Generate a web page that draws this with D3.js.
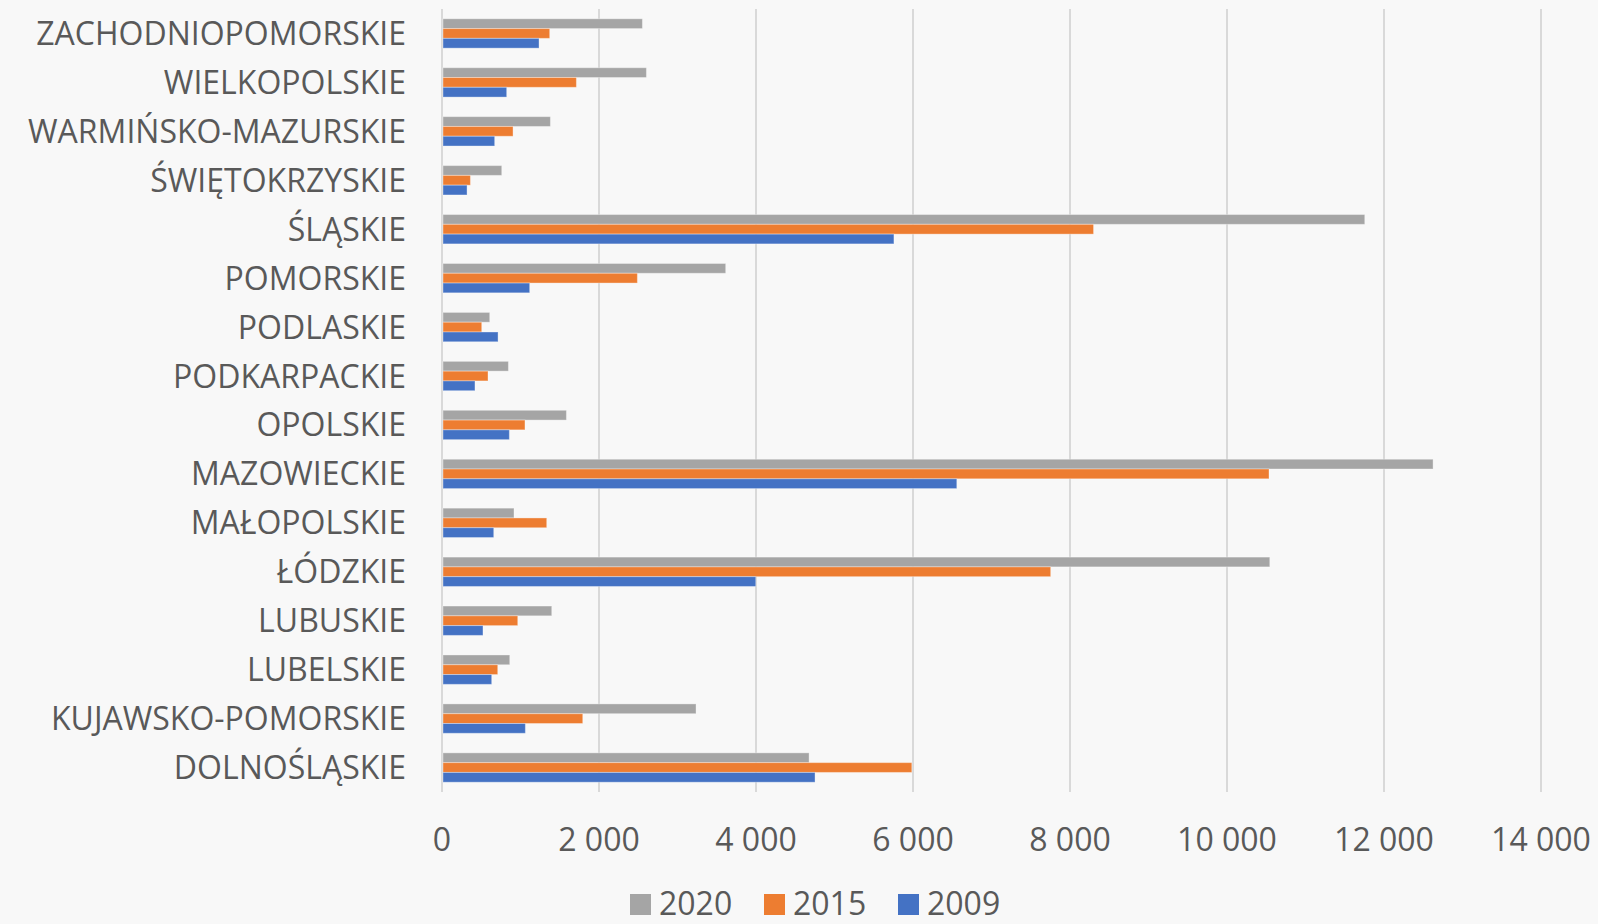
<!DOCTYPE html>
<html lang="pl">
<head>
<meta charset="utf-8">
<script src="https://cdn.jsdelivr.net/npm/d3@7/dist/d3.min.js"></script>
<style>
  html, body { margin: 0; padding: 0; background: #f8f8f8; overflow: hidden; }
  svg { display: block; }
  text { font-family: "Open Sans", "Noto Sans", sans-serif; fill: #595959; }
</style>
</head>
<body>
<svg id="chart" width="1598" height="924"></svg>
<script>
// Voivodeships in data order (drawn bottom-up)
const regions = [
  "DOLNOŚLĄSKIE", "KUJAWSKO-POMORSKIE", "LUBELSKIE", "LUBUSKIE", "ŁÓDZKIE",
  "MAŁOPOLSKIE", "MAZOWIECKIE", "OPOLSKIE", "PODKARPACKIE", "PODLASKIE",
  "POMORSKIE", "ŚLĄSKIE", "ŚWIĘTOKRZYSKIE", "WARMIŃSKO-MAZURSKIE",
  "WIELKOPOLSKIE", "ZACHODNIOPOMORSKIE"
];
const values2009 = [4752, 1062, 633, 522, 3997, 659, 6558, 858, 420, 714, 1117, 5757, 319, 671, 824, 1236];
const values2015 = [5985, 1793, 710, 965, 7754, 1334, 10535, 1057, 586, 506, 2489, 8300, 362, 905, 1712, 1372];
const values2020 = [4676, 3236, 863, 1398, 10545, 917, 12625, 1585, 846, 608, 3614, 11755, 761, 1381, 2604, 2553];
const seriesNames = ["2020", "2015", "2009"];
const seriesColors = ["#a5a5a5", "#ed7d31", "#4472c4"];
const xTicks = [0, 2000, 4000, 6000, 8000, 10000, 12000, 14000];

const series = [values2020, values2015, values2009];
const fontSize = 32;

const svg = d3.select("#chart");
const plot = { left: 442, right: 1541, top: 9, bottom: 792 };

const x = d3.scaleLinear().domain([0, 14000]).range([plot.left, plot.right]);
const y = d3.scaleBand()
  .domain(regions.slice().reverse())
  .range([plot.top, plot.bottom])
  .paddingInner(0).paddingOuter(0);
const groupH = y.bandwidth() * 0.6;
const inner = d3.scaleBand().domain(seriesNames).range([0, groupH]);

// thousands separated by a space
const fmt = v => d3.format(",")(v).replace(/,/g, " ");

// vertical gridlines
svg.append("g")
  .selectAll("line")
  .data(xTicks)
  .join("line")
  .attr("x1", d => x(d)).attr("x2", d => x(d))
  .attr("y1", plot.top).attr("y2", plot.bottom)
  .attr("stroke", "#d9d9d9")
  .attr("stroke-width", 2);

// bars
const groups = svg.append("g")
  .selectAll("g")
  .data(regions)
  .join("g")
  .attr("transform", d => `translate(0,${y(d) + (y.bandwidth() - groupH) / 2})`);

groups.selectAll("rect")
  .data((d, i) => series.map((s, k) => ({ name: seriesNames[k], value: s[i], color: seriesColors[k] })))
  .join("rect")
  .attr("x", x(0) + 1)
  .attr("y", d => inner(d.name))
  .attr("width", d => x(d.value) - x(0) - 1)
  .attr("height", inner.bandwidth())
  .attr("fill", d => d.color)
  .attr("stroke", "#ffffff")
  .attr("stroke-opacity", 0.35)
  .attr("stroke-width", 1);

// category labels
svg.append("g")
  .selectAll("text")
  .data(regions)
  .join("text")
  .attr("x", 406)
  .attr("y", d => y(d) + y.bandwidth() / 2)
  .attr("dy", "0.36em")
  .attr("text-anchor", "end")
  .attr("font-size", fontSize)
  .text(d => d);

// value axis labels
svg.append("g")
  .selectAll("text")
  .data(xTicks)
  .join("text")
  .attr("x", d => x(d))
  .attr("y", 851)
  .attr("text-anchor", "middle")
  .attr("font-size", fontSize)
  .text(d => fmt(d));

// legend
const legendItems = [
  { name: "2020", color: seriesColors[0], x: 630 },
  { name: "2015", color: seriesColors[1], x: 764 },
  { name: "2009", color: seriesColors[2], x: 898 }
];
const lg = svg.append("g").selectAll("g").data(legendItems).join("g");
lg.append("rect")
  .attr("x", d => d.x).attr("y", 894)
  .attr("width", 21).attr("height", 21)
  .attr("fill", d => d.color);
lg.append("text")
  .attr("x", d => d.x + 29)
  .attr("y", 915)
  .attr("font-size", fontSize)
  .text(d => d.name);
</script>
</body>
</html>
